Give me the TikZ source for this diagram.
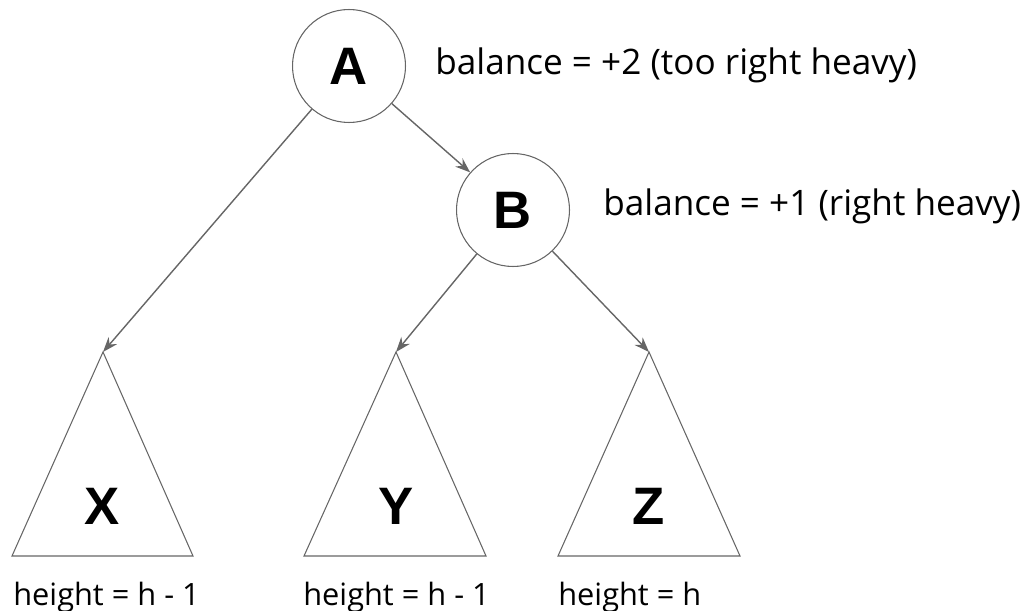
\documentclass[tikz,border=0pt]{standalone}
\usepackage{fontspec}
\setmainfont{Open Sans}
\newfontfamily\letterfont{Liberation Sans}
\usetikzlibrary{positioning, arrows.meta}
\definecolor{linegray}{HTML}{666666}

\begin{document}
\begin{tikzpicture}[x=0.02cm, y=-0.02cm, font=\fontsize{20}{24}\selectfont,
  treenode/.style={draw=linegray, circle, line width=0.6pt, minimum size=2.26cm, inner sep=0pt, font=\letterfont\bfseries\fontsize{30}{36}\selectfont},
  treelabel/.style={font=\letterfont\bfseries\fontsize{30}{36}\selectfont},
  heightlabel/.style={anchor=base west, inner sep=0pt, font=\fontsize{17.5}{21}\selectfont},
  subtree/.style={draw=linegray, line width=0.6pt},
  arrow/.style={-{Stealth[length=3mm, width=2.2mm]}, draw=linegray, line width=0.8pt}]
\useasboundingbox (0,0) rectangle (1030,611);
% nodes
\node[treenode] (a) at (349,66) {A};
\node[treenode] (b) at (513,210) {B};
\node[anchor=base west, inner sep=0pt] (bala) at (435,75) {balance = +2 (too right heavy)};
\node[anchor=base west, inner sep=0pt] (balb) at (603,215) {balance = +1 (right heavy)};
% subtrees
\draw[subtree] (103,352) coordinate (xtop) -- (193,556) -- (12,556) -- cycle;
\draw[subtree] (396,352) coordinate (ytop) -- (486,556) -- (304,556) -- cycle;
\draw[subtree] (649,352) coordinate (ztop) -- (740,556) -- (558,556) -- cycle;
\node[treelabel] (x) at (102,506) {X};
\node[treelabel] (y) at (396,506) {Y};
\node[treelabel] (z) at (649,506) {Z};
\node[heightlabel] (hx) at (13,605) {height = h - 1};
\node[heightlabel] (hy) at (303,605) {height = h - 1};
\node[heightlabel] (hz) at (558,605) {height = h};
% edges
\draw[arrow] (a) -- (b);
\draw[arrow] (a) -- (xtop);
\draw[arrow] (b) -- (ytop);
\draw[arrow] (b) -- (ztop);
\end{tikzpicture}
\end{document}
